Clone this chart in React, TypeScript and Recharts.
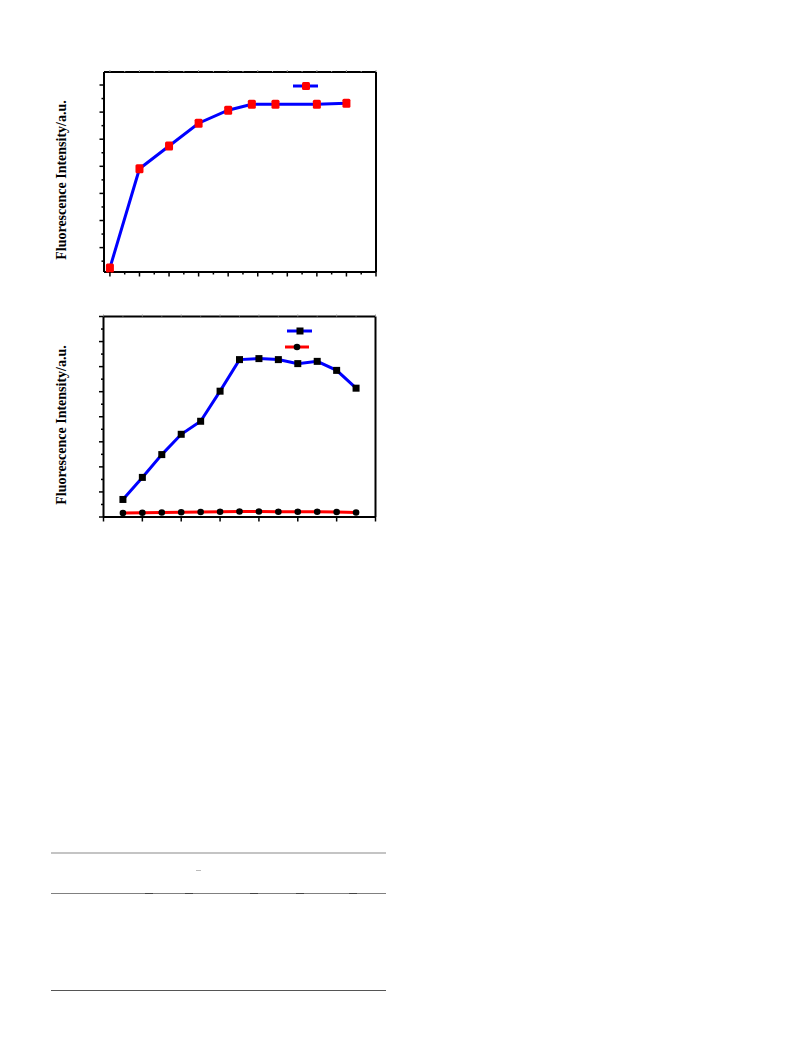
import React from 'react';
import { LineChart, Line, XAxis, YAxis, Legend } from 'recharts';

// top chart: time course (x in arbitrary units, y in tick units)
const timeX = [0, 10, 20, 30, 40, 48, 56, 70, 80];
const timeY = [0.25, 3.91, 4.75, 5.59, 6.07, 6.29, 6.29, 6.29, 6.33];
const timeTicksX = [0, 5, 10, 15, 20, 25, 30, 35, 40, 45, 50, 55, 60, 65, 70, 75, 80, 85, 90];
const timeTicksY = [0.5, 1, 1.5, 2, 2.5, 3, 3.5, 4, 4.5, 5, 5.5, 6, 6.5, 7];

// bottom chart: two series over 13 steps
const stepX = [1, 2, 3, 4, 5, 6, 7, 8, 9, 10, 11, 12, 13];
const probeY = [0.7, 1.58, 2.49, 3.3, 3.82, 5.02, 6.28, 6.32, 6.28, 6.12, 6.21, 5.85, 5.14];
const blankY = [0.16, 0.17, 0.18, 0.19, 0.2, 0.21, 0.22, 0.22, 0.21, 0.21, 0.21, 0.2, 0.18];
const stepTicksX = [0, 2, 4, 6, 8, 10, 12, 14];
const stepTicksTop = [0, 1, 2, 3, 4, 5, 6, 7, 8, 9, 10, 11, 12, 13, 14];
const stepTicksY = [0, 0.5, 1, 1.5, 2, 2.5, 3, 3.5, 4, 4.5, 5, 5.5, 6, 6.5, 7, 7.5, 8];

const timeData = timeX.map((x, i) => ({ x, y: timeY[i] }));
const stepData = stepX.map((x, i) => ({ x, probe: probeY[i], blank: blankY[i] }));

const LABEL = 'Fluorescence Intensity/a.u.';

// tick mark only (no text), longer on major steps
const makeTick = (side: 'bottom' | 'left' | 'top', major: number, color = '#000') => (props: any) => {
  const { x, y, payload } = props;
  const isMajor = Math.abs(payload.value / major - Math.round(payload.value / major)) < 1e-6;
  const len = side === 'top' ? (isMajor ? 2 : 1) : isMajor ? 4.5 : 2.5;
  if (side === 'bottom') return <line x1={x} y1={y} x2={x} y2={y + len} stroke={color} strokeWidth={1.5} />;
  if (side === 'top') return <line x1={x} y1={y} x2={x} y2={y - len} stroke={color} strokeWidth={1} />;
  return <line x1={x} y1={y} x2={x - len} y2={y} stroke={color} strokeWidth={1.5} />;
};

const RedSquare = (props: any) => {
  const { cx, cy } = props;
  if (cx == null || cy == null) return null;
  return <rect x={cx - 4} y={cy - 4.5} width={8} height={9} rx={1.5} fill="#ff0000" />;
};

const BlackSquare = (props: any) => {
  const { cx, cy } = props;
  if (cx == null || cy == null) return null;
  return <rect x={cx - 3.5} y={cy - 3.5} width={7} height={7} fill="#000" />;
};

const BlackCircle = (props: any) => {
  const { cx, cy } = props;
  if (cx == null || cy == null) return null;
  return <circle cx={cx} cy={cy} r={3.3} fill="#000" />;
};

const TopLegend = () => (
  <svg width={30} height={12}>
    <line x1={0} y1={6} x2={25} y2={6} stroke="#0000ff" strokeWidth={3} />
    <rect x={9} y={2} width={8} height={8} rx={1.5} fill="#ff0000" />
  </svg>
);

const BottomLegend = () => (
  <svg width={30} height={28}>
    <line x1={2} y1={5} x2={27} y2={5} stroke="#0000ff" strokeWidth={3} />
    <rect x={11.5} y={1.5} width={7} height={7} fill="#000" />
    <line x1={0} y1={21} x2={24} y2={21} stroke="#ff0000" strokeWidth={3} />
    <circle cx={12} cy={21} r={3.3} fill="#000" />
  </svg>
);

const yLabelStyle = (top: number): React.CSSProperties => ({
  position: 'absolute',
  left: 62,
  top,
  transform: 'translate(-50%, -50%) rotate(-90deg)',
  whiteSpace: 'nowrap',
  fontFamily: '"Liberation Serif", serif',
  fontWeight: 'bold',
  fontSize: 14,
  color: '#000',
});

const frameLine = { stroke: '#000', strokeWidth: 2 };

export default function App() {
  return (
    <div style={{ position: 'absolute', left: 0, top: 0, width: 793, height: 1057, background: '#fff' }}>
      {/* Upper chart */}
      <div style={yLabelStyle(180)}>{LABEL}</div>
      <div style={{ position: 'absolute', left: 40, top: 60 }}>
        <LineChart width={350} height={230} data={timeData} margin={{ top: 11, right: 13, bottom: 17, left: 63 }}>
          <XAxis xAxisId="b" dataKey="x" type="number" domain={[-2, 90]} ticks={timeTicksX} interval={0}
            height={1} tickSize={0} tickMargin={0} tickLine={false} axisLine={frameLine} tick={makeTick('bottom', 10)} />
          <XAxis xAxisId="t" orientation="top" dataKey="x" type="number" domain={[-2, 90]} ticks={timeTicksX} interval={0}
            height={1} tickSize={0} tickMargin={0} tickLine={false} axisLine={frameLine} tick={makeTick('top', 10, '#999')} />
          <YAxis yAxisId="l" type="number" domain={[0.1, 7.48]} ticks={timeTicksY} interval={0}
            width={1} tickSize={0} tickMargin={0} tickLine={false} axisLine={frameLine} tick={makeTick('left', 1)} />
          <YAxis yAxisId="r" orientation="right" type="number" domain={[0.1, 7.48]} width={1}
            tick={false} tickLine={false} axisLine={frameLine} />
          <Legend layout="horizontal" verticalAlign="middle" align="center"
            wrapperStyle={{ left: 253, top: 18, width: 30, height: 12 }} content={() => <TopLegend />} />
          <Line xAxisId="b" yAxisId="l" dataKey="y" stroke="#0000ff" strokeWidth={3} dot={<RedSquare />}
            activeDot={false} isAnimationActive={false} />
        </LineChart>
      </div>

      {/* Lower chart */}
      <div style={yLabelStyle(425)}>{LABEL}</div>
      <div style={{ position: 'absolute', left: 40, top: 300 }}>
        <LineChart width={350} height={235} data={stepData} margin={{ top: 15.5, right: 13.5, bottom: 17, left: 62.5 }}>
          <XAxis xAxisId="b" dataKey="x" type="number" domain={[0, 14]} ticks={stepTicksX} interval={0}
            height={1} tickSize={0} tickMargin={0} tickLine={false} axisLine={frameLine} tick={makeTick('bottom', 2)} />
          <XAxis xAxisId="t" orientation="top" dataKey="x" type="number" domain={[0, 14]} ticks={stepTicksTop} interval={0}
            height={1} tickSize={0} tickMargin={0} tickLine={false} axisLine={frameLine} tick={makeTick('top', 2, '#999')} />
          <YAxis yAxisId="l" type="number" domain={[0, 8]} ticks={stepTicksY} interval={0}
            width={1} tickSize={0} tickMargin={0} tickLine={false} axisLine={frameLine} tick={makeTick('left', 1)} />
          <YAxis yAxisId="r" orientation="right" type="number" domain={[0, 8]} width={1}
            tick={false} tickLine={false} axisLine={frameLine} />
          <Legend layout="horizontal" verticalAlign="middle" align="center"
            wrapperStyle={{ left: 245, top: 26, width: 30, height: 28 }} content={() => <BottomLegend />} />
          <Line xAxisId="b" yAxisId="l" dataKey="blank" stroke="#ff0000" strokeWidth={3} dot={<BlackCircle />}
            activeDot={false} isAnimationActive={false} />
          <Line xAxisId="b" yAxisId="l" dataKey="probe" stroke="#0000ff" strokeWidth={3} dot={<BlackSquare />}
            activeDot={false} isAnimationActive={false} />
        </LineChart>
      </div>

      {/* table rules below the figures */}
      <div style={{ position: 'absolute', left: 51, top: 852, width: 335, height: 2, background: '#c4c4c4' }} />
      <div style={{ position: 'absolute', left: 196, top: 870, width: 5, height: 1, background: '#bbb' }} />
      <div style={{ position: 'absolute', left: 51, top: 892.5, width: 335, height: 1.5, background: '#808080' }} />
      {[145, 185, 250, 296, 349].map((x) => (
        <div key={x} style={{ position: 'absolute', left: x, top: 892.5, width: 8, height: 1.5, background: '#444' }} />
      ))}
      <div style={{ position: 'absolute', left: 51, top: 989.5, width: 335, height: 1.5, background: '#555' }} />
    </div>
  );
}
